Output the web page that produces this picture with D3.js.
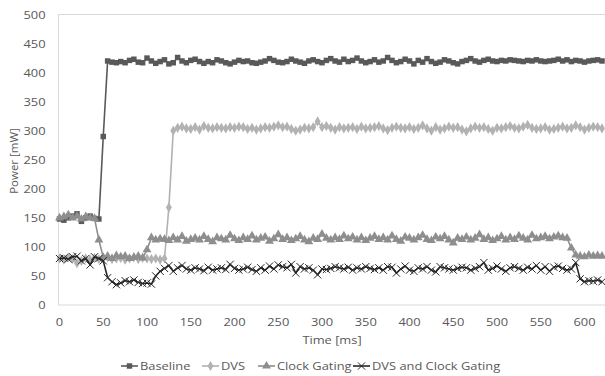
<!DOCTYPE html>
<html><head><meta charset="utf-8">
<script src="https://cdn.jsdelivr.net/npm/d3@7"></script>
<style>
body{margin:0;background:#fff;}
text{font-family:"Open Sans",sans-serif;fill:#595959;}
</style></head>
<body><svg id="c" width="605" height="376"></svg>
<script>
const time = [0,5,10,15,20,25,30,35,40,45,50,55,60,65,70,75,80,85,90,95,100,105,110,115,120,125,130,135,140,145,150,155,160,165,170,175,180,185,190,195,200,205,210,215,220,225,230,235,240,245,250,255,260,265,270,275,280,285,290,295,300,305,310,315,320,325,330,335,340,345,350,355,360,365,370,375,380,385,390,395,400,405,410,415,420,425,430,435,440,445,450,455,460,465,470,475,480,485,490,495,500,505,510,515,520,525,530,535,540,545,550,555,560,565,570,575,580,585,590,595,600,605,610,615,620];
const baseline = [148,146,150,153,157,144,150,153,149,148,
290,
420,418,417,419,417,421,423,418,417,425,
420,416,419,422,415,417,426,420,417,421,
423,419,416,419,417,422,420,417,415,418,
421,419,420,417,416,418,420,424,421,418,
417,419,423,420,418,416,420,422,419,417,
421,424,420,418,423,419,421,425,420,417,
419,422,418,420,426,421,417,419,423,420,
415,421,418,424,419,416,418,422,420,417,
415,419,421,424,420,418,421,423,420,419,
421,420,422,421,420,419,421,420,422,420,
419,420,421,423,420,422,419,421,420,418,
420,421,422,420];
const dvs = [80,78,82,79,72,76,80,78,81,79,80,82,79,80,81,78,80,82,79,81,80,79,80,78,80,
168,300,
305,307,304,303,306,302,308,305,304,306,
305,304,306,305,307,306,303,305,302,304,
306,305,307,309,306,307,303,300,302,305,
304,306,316,306,308,305,302,306,304,305,
306,303,307,304,305,306,308,304,301,305,
307,305,304,306,303,305,309,304,300,306,
302,304,307,305,306,302,299,304,307,305,
306,303,300,305,304,306,308,305,304,307,
310,305,303,304,306,302,303,305,307,304,
305,309,306,302,305,307,306,304];
const clockGating = [150,152,155,150,153,148,152,150,149,112,
82,84,80,85,83,84,80,82,84,81,
95,116,
112,114,113,111,116,112,118,110,113,115,
112,118,113,109,116,114,112,120,114,111,
116,113,119,112,115,117,110,114,121,113,
116,111,114,118,112,109,115,113,122,115,
112,116,113,119,114,117,112,116,111,115,
118,113,116,112,119,113,110,117,115,112,
116,120,113,111,117,114,118,112,107,115,
113,117,112,115,121,113,116,111,114,118,
112,116,113,119,115,112,120,114,116,118,
114,117,119,116,115,
98,86,84,83,86,84,85,84];
const dvsClockGating = [80,81,79,83,84,76,80,69,83,80,76,
47,
40,35,38,42,40,43,39,37,38,36,
50,58,
63,68,58,64,68,62,60,64,62,59,
65,60,62,64,61,70,63,60,62,65,
61,58,64,60,67,62,69,66,64,70,
55,66,62,64,60,52,62,61,63,66,
64,62,65,60,64,62,66,63,61,64,
60,66,65,55,62,67,60,58,64,62,
66,60,57,66,64,62,60,63,65,64,
60,63,66,73,60,63,67,62,58,64,
66,63,60,65,62,68,60,66,58,65,
67,63,60,
62,73,45,40,42,41,43,40];
const seriesNames = ["Baseline","DVS","Clock Gating","DVS and Clock Gating"];
const yTicks = [0,50,100,150,200,250,300,350,400,450,500];
const xTicks = [0,50,100,150,200,250,300,350,400,450,500,550,600];

const series = [
  {name:seriesNames[0], values:baseline, color:"#595959", sym:d3.symbolSquare, size:30, fill:true},
  {name:seriesNames[1], values:dvs, color:"#b2b2b2", sym:d3.symbolDiamond, size:30, fill:true},
  {name:seriesNames[2], values:clockGating, color:"#8e8e8e", sym:d3.symbolTriangle, size:34, fill:true},
  {name:seriesNames[3], values:dvsClockGating, color:"#262626", sym:d3.symbolX, size:36, fill:false}
];

const svg = d3.select("#c");
const L=58, R=605, T=14.5, B=305;
const SX = 1.12, FS = 11.5;
const x = d3.scaleLinear().domain([0,600]).range([59.5,584.5]);
const y = d3.scaleLinear().domain([0,500]).range([B,T]);

function label(g, px, py, txt, anchor, dy){
  return g.append("text").attr("transform",`translate(${px},${py}) scale(${SX},1)`)
    .attr("text-anchor",anchor).attr("dy",dy||0).attr("font-size",FS).text(txt);
}

svg.append("rect").attr("x",L+0.5).attr("y",T).attr("width",R-L).attr("height",B-T)
  .attr("fill","none").attr("stroke","#d9d9d9").attr("stroke-width",1);

const ya = svg.append("g");
yTicks.forEach(d=>label(ya,45.5,y(d),d,"end","0.35em"));
const xa = svg.append("g");
xTicks.forEach(d=>label(xa,x(d),326,d,"middle"));

svg.append("text").attr("transform","translate(18,161) rotate(-90)")
  .attr("text-anchor","middle").attr("font-size",FS).text("Power [mW]");
label(svg,332,344,"Time [ms]","middle");

const line = d3.line().x((d,i)=>x(time[i])).y(d=>y(d));
const plot = svg.append("g");
series.forEach(s=>{
  plot.append("path").attr("d",line(s.values)).attr("fill","none")
    .attr("stroke",s.color).attr("stroke-width",1.6).attr("stroke-linejoin","round");
  const sy = d3.symbol().type(s.sym).size(s.size);
  plot.append("g").selectAll("path").data(s.values).join("path")
    .attr("transform",(d,i)=>`translate(${x(time[i])},${y(d)})`)
    .attr("d",sy)
    .attr("fill",s.fill?s.color:"none")
    .attr("stroke",s.color).attr("stroke-width",s.fill?0:1);
});

const legX = [121,202,258,353];
const lg = svg.append("g");
series.forEach((s,k)=>{
  const g = lg.append("g").attr("transform",`translate(${legX[k]},366)`);
  g.append("line").attr("x1",0).attr("x2",17).attr("y1",0).attr("y2",0)
    .attr("stroke",s.color).attr("stroke-width",1.6);
  g.append("path").attr("transform","translate(8.5,0)")
    .attr("d",d3.symbol().type(s.sym).size(s.size)())
    .attr("fill",s.fill?s.color:"none").attr("stroke",s.color).attr("stroke-width",s.fill?0:1);
  label(g,19,0,s.name,"start","0.35em");
});
</script></body></html>
